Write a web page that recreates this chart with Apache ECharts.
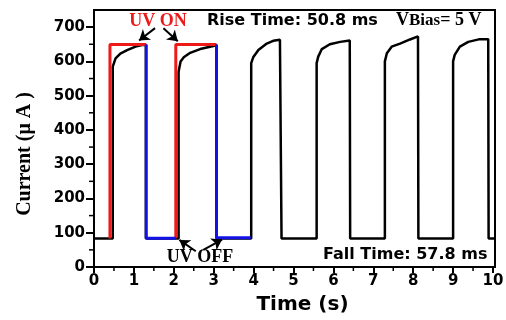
<!DOCTYPE html>
<html><head><meta charset="utf-8">
<script src="https://cdn.jsdelivr.net/npm/echarts@6/dist/echarts.min.js"></script>
<style>html,body{margin:0;padding:0;background:#fff}#c{width:506px;height:320px}</style>
</head><body><div id="c"></div>
<script>
const xTicks = [0,1,2,3,4,5,6,7,8,9,10];
const xMinorTicks = [0.5,1.5,2.5,3.5,4.5,5.5,6.5,7.5,8.5,9.5];
const yTicks = [0,100,200,300,400,500,600,700];
const yMinorTicks = [50,150,250,350,450,550,650];

const blackTime = [0, 0.47, 0.47, 0.54, 0.66, 0.83, 1.04, 1.2, 1.3, 1.3,
  2.12, 2.12, 2.17, 2.25, 2.41, 2.66, 2.91, 3.07, 3.07,
  3.94, 3.94, 3.99, 4.12, 4.33, 4.49, 4.66, 4.7, 4.7,
  5.58, 5.58, 5.62, 5.71, 5.91, 6.17, 6.41, 6.42, 6.42,
  7.29, 7.29, 7.34, 7.46, 7.67, 7.92, 8.12, 8.13, 8.13,
  9.0, 9.0, 9.04, 9.17, 9.38, 9.67, 9.88, 9.89, 9.89, 10.03];
const blackCurrent = [83, 83, 585, 609, 623, 633, 643, 648, 648, 83,
  83, 570, 600, 612, 625, 636, 643, 647, 83,
  83, 595, 612, 633, 652, 660, 663, 663, 83,
  83, 595, 614, 636, 650, 657, 661, 661, 83,
  83, 600, 624, 643, 652, 664, 673, 673, 83,
  83, 600, 619, 643, 657, 665, 665, 665, 83, 83];

const redOnTime = [[0.4, 0.4, 1.31], [2.05, 2.05, 3.07]];
const redOnCurrent = [[83, 649, 649], [84, 649, 649]];
const blueOffTime = [[1.31, 1.31, 2.05], [3.07, 3.07, 3.93]];
const blueOffCurrent = [[649, 84, 84], [649, 85, 85]];

// arrows: [fromTime, fromCurrent, toTime, toCurrent]
const arrowsOn = [[1.53, 697, 1.13, 661], [1.74, 697, 2.10, 659]];
const arrowsOff = [[2.55, 46, 2.14, 79], [2.74, 50, 3.21, 80]];

const zip = (a, b) => a.map((v, i) => [v, b[i]]);
const chart = echarts.init(document.getElementById('c'), null, {renderer: 'canvas'});

const series = [{
  type: 'line', data: zip(blackTime, blackCurrent), showSymbol: false,
  lineStyle: {color: '#000', width: 2.5}, z: 2,
  markLine: {
    silent: true, symbol: ['none', 'arrow'], symbolSize: 10,
    lineStyle: {color: '#000', width: 2, type: 'solid'}, label: {show: false},
    data: arrowsOn.concat(arrowsOff).map(a => [{coord: [a[0], a[1]]}, {coord: [a[2], a[3]]}])
  }
}];
redOnTime.forEach((t, i) => series.push({
  type: 'line', data: zip(t, redOnCurrent[i]), showSymbol: false,
  lineStyle: {color: '#ee1a1a', width: 3}, z: 3
}));
blueOffTime.forEach((t, i) => series.push({
  type: 'line', data: zip(t, blueOffCurrent[i]), showSymbol: false,
  lineStyle: {color: '#1212e6', width: 3}, z: 4
}));

const tickFont = {fontFamily: 'DejaVu Sans', fontWeight: 'bold', fontSize: 15, color: '#000'};

chart.setOption({
  animation: false,
  grid: {left: 94, right: 11, top: 10, bottom: 53, show: true, borderColor: '#000', borderWidth: 2, outerBoundsMode: 'none'},
  xAxis: {
    type: 'value', min: 0, max: 10.05, interval: 1,
    axisLine: {show: true, onZero: false, lineStyle: {color: '#000', width: 2}},
    axisTick: {show: true, inside: false, length: 6, lineStyle: {color: '#000', width: 2}, customValues: xTicks},
    axisLabel: Object.assign({margin: 7, customValues: xTicks}, tickFont),
    splitLine: {show: false}
  },
  yAxis: {
    type: 'value', min: 0, max: 750, interval: 100,
    axisLine: {show: true, onZero: false, lineStyle: {color: '#000', width: 2}},
    axisTick: {show: true, inside: false, length: 8, lineStyle: {color: '#000', width: 2}, customValues: yTicks},
    axisLabel: Object.assign({margin: 9, customValues: yTicks}, tickFont),
    splitLine: {show: false}
  },
  series: series
});

// minor ticks placed through the axis scales
const minorTickMarks = [];
yMinorTicks.forEach(v => {
  const p = chart.convertToPixel({gridIndex: 0}, [0, v]);
  minorTickMarks.push({type: 'line', shape: {x1: p[0] - 5, y1: p[1], x2: p[0], y2: p[1]}, style: {stroke: '#000', lineWidth: 1.5}, silent: true});
});
xMinorTicks.forEach(v => {
  const p = chart.convertToPixel({gridIndex: 0}, [v, 0]);
  minorTickMarks.push({type: 'line', shape: {x1: p[0], y1: p[1], x2: p[0], y2: p[1] + 4}, style: {stroke: '#000', lineWidth: 1.5}, silent: true});
});

const texts = [
  {type: 'text', x: 158, y: 21, style: {text: 'UV ON', fill: '#ee1a1a', font: 'bold 18px "Liberation Serif"', textAlign: 'center', textVerticalAlign: 'middle'}},
  {type: 'text', x: 200, y: 257.5, style: {text: 'UV OFF', fill: '#000', font: 'bold 18px "Liberation Serif"', textAlign: 'center', textVerticalAlign: 'middle'}},
  {type: 'text', x: 207, y: 20.5, style: {text: 'Rise Time: 50.8 ms', fill: '#000', font: 'bold 16px "DejaVu Sans"', textAlign: 'left', textVerticalAlign: 'middle'}},
  {type: 'text', x: 323, y: 255, style: {text: 'Fall Time: 57.8 ms', fill: '#000', font: 'bold 16px "DejaVu Sans"', textAlign: 'left', textVerticalAlign: 'middle'}},
  {type: 'text', x: 396, y: 11, style: {
    text: '{v|V}{s|Bias}{v|= 5 V}', textAlign: 'left', textVerticalAlign: 'top',
    rich: {
      v: {fontFamily: 'Liberation Serif', fontWeight: 'bold', fontSize: 18, lineHeight: 18, verticalAlign: 'top', fill: '#000', color: '#000'},
      s: {fontFamily: 'Liberation Serif', fontWeight: 'bold', fontSize: 17, lineHeight: 17, verticalAlign: 'bottom', padding: [5, 0, 0, 0], fill: '#000', color: '#000'}
    }}},
  {type: 'text', x: 25, y: 154, rotation: Math.PI / 2, style: {text: 'Current (μ A )', fill: '#000', font: 'bold 20px "Liberation Serif"', textAlign: 'center', textVerticalAlign: 'middle'}},
  {type: 'text', x: 302.5, y: 305, style: {text: 'Time (s)', fill: '#000', font: 'bold 20px "DejaVu Sans"', textAlign: 'center', textVerticalAlign: 'middle'}}
];
chart.setOption({graphic: texts.concat(minorTickMarks)});
</script></body></html>
